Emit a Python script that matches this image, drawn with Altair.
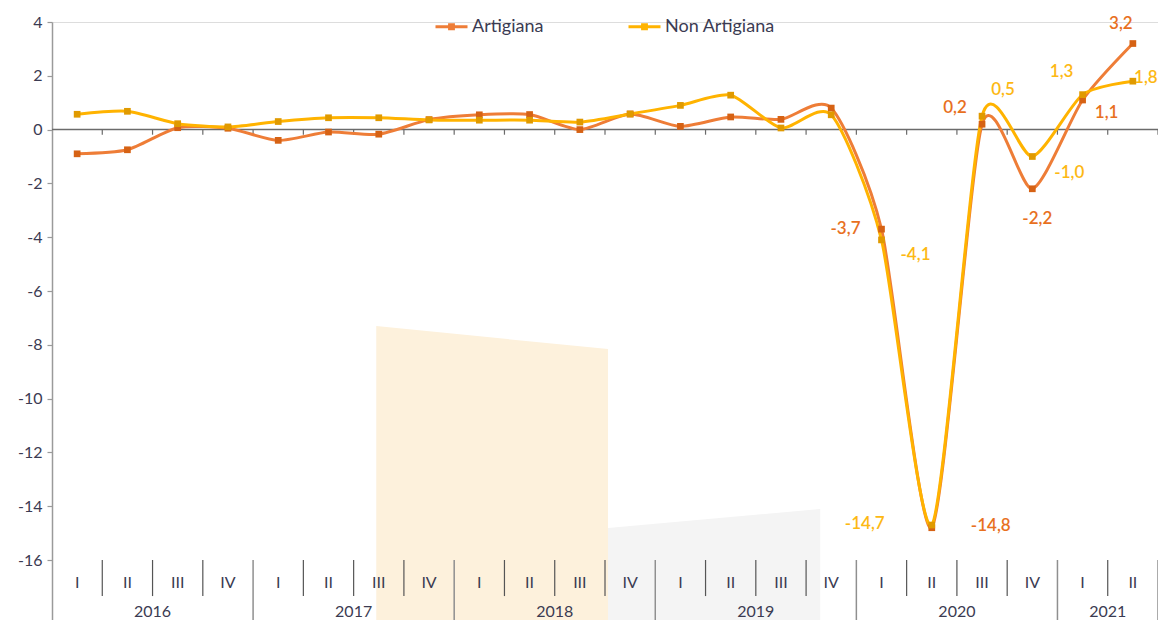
import altair as alt
import pandas as pd

# ---------------- data ----------------
quarters = ["I", "II", "III", "IV"] * 5 + ["I", "II"]
years = ["2016", "2017", "2018", "2019", "2020", "2021"]
quarters_per_year = [4, 4, 4, 4, 4, 2]
series_names = ["Artigiana", "Non Artigiana"]
artigiana = [-0.9, -0.75, 0.07, 0.05, -0.4, -0.09, -0.17, 0.37, 0.55, 0.56,
             0.0, 0.58, 0.12, 0.47, 0.38, 0.8, -3.7, -14.8, 0.2, -2.2, 1.1, 3.2]
non_artigiana = [0.57, 0.68, 0.22, 0.1, 0.3, 0.44, 0.44, 0.36, 0.35, 0.35,
                 0.28, 0.58, 0.9, 1.28, 0.06, 0.55, -4.1, -14.7, 0.5, -1.0, 1.3, 1.8]
label_text_art = {16: "-3,7", 17: "-14,8", 18: "0,2", 19: "-2,2", 20: "1,1", 21: "3,2"}
label_text_non = {16: "-4,1", 17: "-14,7", 18: "0,5", 19: "-1,0", 20: "1,3", 21: "1,8"}
y_ticks = [-16, -14, -12, -10, -8, -6, -4, -2, 0, 2, 4]
# decorative background shapes (data units): x, top
beige_x = [5.95, 10.56]
beige_top = [-7.30, -8.16]
grey_x = [10.56, 14.78]
grey_top = [-14.81, -14.10]

# ---------------- styling ----------------
FONT = "Lato"
TXT = "#3b3b52"
ORANGE_LINE = "#EE7D37"
ORANGE_MARK = "#D66214"
ORANGE_TXT = "#E8701E"
YELLOW_LINE = "#FFB300"
YELLOW_MARK = "#E09A00"
YELLOW_TXT = "#FDB813"

Y_MIN, Y_MAX = -18.23, 4
X_MIN, X_MAX = -0.5, 21.5

n = len(quarters)

rows = []
for i in range(n):
    rows.append({"idx": i, "series": series_names[0], "value": artigiana[i]})
    rows.append({"idx": i, "series": series_names[1], "value": non_artigiana[i]})
df = pd.DataFrame(rows)

xscale = alt.Scale(domain=[X_MIN, X_MAX], nice=False, zero=False)
yscale = alt.Scale(domain=[Y_MIN, Y_MAX], nice=False, zero=False)
yaxis = alt.Axis(values=y_ticks, grid=False, title=None, domainColor="#9a9a9a",
                 domainWidth=1.5, tickColor="#9a9a9a", tickSize=5, tickWidth=1.2,
                 labelFont=FONT, labelFontSize=16, labelColor=TXT, labelPadding=5,
                 labelExpr="datum.value + ''")


def X(f="idx"):
    return alt.X(f, type="quantitative", scale=xscale, axis=None)


def Y(f="value"):
    return alt.Y(f, type="quantitative", scale=yscale, axis=yaxis)


# background shapes
beige = alt.Chart(pd.DataFrame({"x": beige_x, "top": beige_top, "bot": [Y_MIN, Y_MIN]})).mark_area(
    color="#FDF1DC", opacity=1).encode(x=X("x"), y=Y("top"), y2="bot")
grey = alt.Chart(pd.DataFrame({"x": grey_x, "top": grey_top, "bot": [Y_MIN, Y_MIN]})).mark_area(
    color="#F4F4F4", opacity=1).encode(x=X("x"), y=Y("top"), y2="bot")

# zero axis line with ticks at quarter boundaries
zero_line = alt.Chart(pd.DataFrame({"x": [X_MIN], "x2": [X_MAX], "y": [0]})).mark_rule(
    color="#6b6b6b", strokeWidth=1.5).encode(x=X("x"), x2="x2", y=Y("y"))
bounds = [i + 0.5 for i in range(n)]
zero_ticks = alt.Chart(pd.DataFrame({"x": bounds, "y": [0] * n, "y2": [-0.19] * n})).mark_rule(
    color="#6b6b6b", strokeWidth=1.2).encode(x=X("x"), y=Y("y"), y2="y2")

# category table at the bottom
year_bounds = [-0.5]
acc = -0.5
for k in quarters_per_year:
    acc += k
    year_bounds.append(acc)
q_bounds = [b for b in bounds if b not in year_bounds]
q_seps = alt.Chart(pd.DataFrame({"x": q_bounds, "y": [-16] * len(q_bounds),
                                 "y2": [-17.34] * len(q_bounds)})).mark_rule(
    color="#555555", strokeWidth=1.2).encode(x=X("x"), y=Y("y"), y2="y2")
y_seps = alt.Chart(pd.DataFrame({"x": year_bounds[1:], "y": [-16] * (len(year_bounds) - 1),
                                 "y2": [Y_MIN] * (len(year_bounds) - 1)})).mark_rule(
    color="#8f8f8f", strokeWidth=1.5).encode(x=X("x"), y=Y("y"), y2="y2")
q_labels = alt.Chart(pd.DataFrame({"x": list(range(n)), "t": quarters, "y": [-16.86] * n})).mark_text(
    font=FONT, fontSize=16, color=TXT, baseline="middle", align="center").encode(
    x=X("x"), y=Y("y"), text="t:N")
year_centers = []
start = 0
for k in quarters_per_year:
    year_centers.append(start + (k - 1) / 2)
    start += k
y_labels = alt.Chart(pd.DataFrame({"x": year_centers, "t": years, "y": [-17.95] * len(years)})).mark_text(
    font=FONT, fontSize=16, color=TXT, baseline="middle", align="center").encode(
    x=X("x"), y=Y("y"), text="t:N")

# lines
legend_symbol = "M-1,0H1M-0.12,-0.12H0.12V0.12H-0.12Z"
lines = alt.Chart(df).mark_line(interpolate="cardinal", tension=0.3, strokeWidth=3).encode(
    x=X(), y=Y(),
    color=alt.Color("series:N", scale=alt.Scale(domain=series_names, range=[ORANGE_LINE, YELLOW_LINE]),
                    legend=alt.Legend(title=None, orient="none", direction="horizontal",
                                      legendX=382, legendY=-13, symbolType=legend_symbol,
                                      symbolSize=1024, symbolStrokeWidth=3, labelFont=FONT,
                                      labelFontSize=18, labelColor=TXT, labelOffset=3,
                                      columnPadding=78)),
    order=alt.Order("series:N", sort="ascending"),
    detail="series:N")

pts_art = alt.Chart(df).transform_filter(alt.datum.series == series_names[0]).mark_square(
    color=ORANGE_MARK, size=45, opacity=1).encode(x=X(), y=Y())
pts_non = alt.Chart(df).transform_filter(alt.datum.series == series_names[1]).mark_square(
    color=YELLOW_MARK, size=45, opacity=1).encode(x=X(), y=Y())

# data labels
offsets_art = {16: (-36, 0), 17: (59, -2), 18: (-27, -16), 19: (5, 30), 20: (24, 13), 21: (-12, -20)}
offsets_non = {16: (34, 15), 17: (-67, -1), 18: (21, -26), 19: (37, 16), 20: (-21, -23), 21: (13, -3)}
label_layers = []
for texts, vals, offs, col in [(label_text_art, artigiana, offsets_art, ORANGE_TXT),
                                (label_text_non, non_artigiana, offsets_non, YELLOW_TXT)]:
    for i, t in texts.items():
        dx, dy = offs[i]
        label_layers.append(
            alt.Chart(pd.DataFrame({"idx": [i], "value": [vals[i]], "t": [t]})).mark_text(
                font=FONT, fontSize=17, fontWeight=600, color=col, dx=dx, dy=dy,
                align="center", baseline="middle").encode(x=X(), y=Y(), text="t:N"))

chart = alt.layer(beige, grey, zero_line, zero_ticks, q_seps, y_seps, q_labels, y_labels,
                  lines, pts_art, pts_non, *label_layers).properties(
    width=1106, height=598,
    autosize=alt.AutoSizeParams(type="none"),
    padding={"left": 44, "top": 14, "right": 0, "bottom": 0},
).configure_view(stroke=None).configure(font=FONT)

chart.save("out.html", embed_options={"renderer": "svg", "actions": False})
